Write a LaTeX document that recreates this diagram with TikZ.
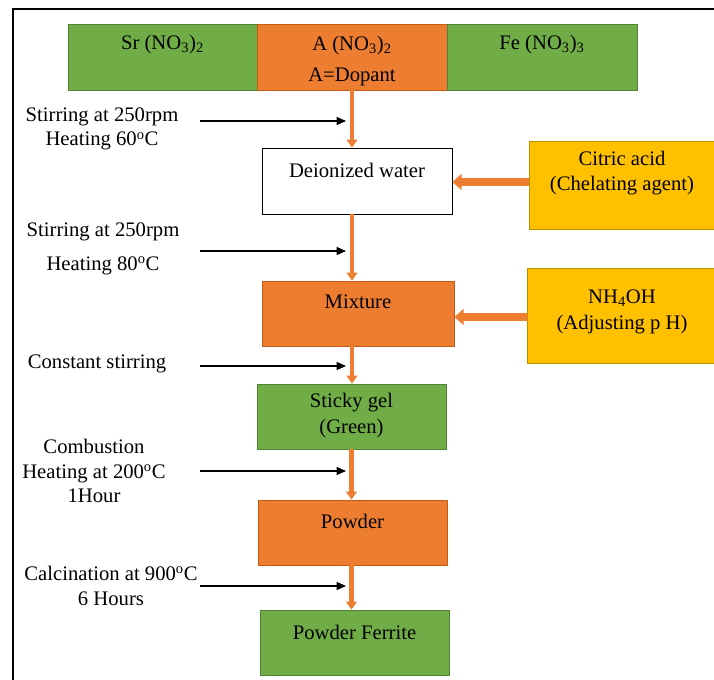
\documentclass[tikz,border=0pt]{standalone}
\usepackage{fontspec}
\setmainfont{Liberation Serif}
\usepackage{xcolor}
\definecolor{flgreen}{RGB}{112,173,71}
\definecolor{flgreendark}{RGB}{84,130,53}
\definecolor{florange}{RGB}{237,125,49}
\definecolor{florangedark}{RGB}{197,90,17}
\definecolor{flyellow}{RGB}{255,192,0}
\definecolor{flyellowdark}{RGB}{191,144,0}
\usepackage{tikz}
\usetikzlibrary{arrows.meta, calc}

\begin{document}
\begin{tikzpicture}[x=0.75pt, y=-0.75pt,
    box/.style={draw, line width=0.6pt, minimum width=189*0.75pt, minimum height=65*0.75pt, inner sep=0pt},
    greenbox/.style={box, draw=flgreendark, fill=flgreen},
    orangebox/.style={box, draw=florangedark, fill=florange},
    yellowbox/.style={box, draw=flyellowdark, fill=flyellow},
    whitebox/.style={box, draw=black, fill=white},
    boxtext/.style={font=\fontsize{15.5}{19}\selectfont, align=center, inner sep=0pt},
    sidetext/.style={font=\fontsize{15.5}{18.5}\selectfont, align=center, inner sep=0pt},
    flow/.style={-{Triangle[length=6pt, width=8pt]}, florange, line width=3.2pt},
    feed/.style={-{Triangle[length=7pt, width=12pt]}, florange, line width=5.5pt},
    step arrow/.style={-{Triangle[length=7pt, width=6pt]}, black, line width=0.9pt}]
  \useasboundingbox (0,0) rectangle (714,680);
  % outer frame
  \draw[line width=1.6pt] (13,690) -- (13,9) -- (720,9);
  % nitrates on top
  \node[greenbox, minimum width=189*0.75pt, minimum height=66*0.75pt] (sr) at (162.5,57) {};
  \node[orangebox, minimum width=190*0.75pt, minimum height=66*0.75pt] (adop) at (352,57) {};
  \node[greenbox, minimum width=190*0.75pt, minimum height=66*0.75pt] (fe) at (542,57) {};
  \node[boxtext] (srtext) at (162.5,45) {Sr (NO\textsubscript{3})\textsubscript{2}};
  \node[boxtext] (adoptext) at (352,61) {A (NO\textsubscript{3})\textsubscript{2}\\[4pt]A=Dopant};
  \node[boxtext] (fetext) at (542,45) {Fe (NO\textsubscript{3})\textsubscript{3}};
  % main column
  \node[whitebox, minimum width=190*0.75pt, minimum height=66*0.75pt] (water) at (357,181) {};
  \node[boxtext] (watertext) at (357,170) {Deionized water};
  \node[orangebox, minimum width=192*0.75pt] (mix) at (358,313.5) {};
  \node[boxtext] (mixtext) at (358,302) {Mixture};
  \node[greenbox] (gel) at (351.5,416.5) {};
  \node[boxtext] (geltext) at (351.5,415.5) {Sticky gel\\(Green)};
  \node[orangebox] (powder) at (352.5,532.5) {};
  \node[boxtext] (powdertext) at (352.5,521) {Powder};
  \node[greenbox] (ferrite) at (354.5,642.5) {};
  \node[boxtext] (ferritetext) at (354.5,632) {Powder Ferrite};
  % additives on the right
  \node[yellowbox, minimum width=187*0.75pt, minimum height=88*0.75pt] (citric) at (622.5,185) {};
  \node[boxtext] (citrictext) at (622,173) {Citric acid\\(Chelating agent)};
  \node[yellowbox, minimum width=189*0.75pt, minimum height=95*0.75pt] (nh) at (621.5,315.5) {};
  \node[boxtext] (nhtext) at (622,312) {NH\textsubscript{4}OH\\(Adjusting p H)};
  % orange flow arrows
  \draw[flow] (adop.south) -- (adop.south |- water.north);
  \draw[flow] (adop.south |- water.south) -- (adop.south |- mix.north);
  \draw[flow] (adop.south |- mix.south) -- (adop.south |- gel.north);
  \draw[flow] (gel.south) -- (gel.south |- powder.north);
  \draw[flow] (gel.south |- powder.south) -- (gel.south |- ferrite.north);
  \draw[feed] (citric.west |- 0,182) -- (water.east |- 0,182);
  \draw[feed] (nh.west |- 0,317) -- (mix.east |- 0,317);
  % process conditions on the left
  \node[sidetext] (cond1) at (102,129) {Stirring at 250rpm\\Heating 60\textsuperscript{o}C};
  \node[sidetext] (cond2) at (103,249) {Stirring at 250rpm\\[7pt]Heating 80\textsuperscript{o}C};
  \node[sidetext] (cond3) at (97,364) {Constant stirring};
  \node[sidetext] (cond4) at (94,471) {Combustion\\Heating at 200\textsuperscript{o}C\\1Hour};
  \node[sidetext] (cond5) at (111,586) {Calcination at 900\textsuperscript{o}C\\6 Hours};
  \foreach \n/\y in {1/121, 2/251, 3/366, 4/471, 5/586} {
    \coordinate (s\n) at (200,\y);
    \coordinate (e\n) at (346,\y);
    \draw[step arrow] (s\n) -- (e\n);
  }
\end{tikzpicture}
\end{document}
